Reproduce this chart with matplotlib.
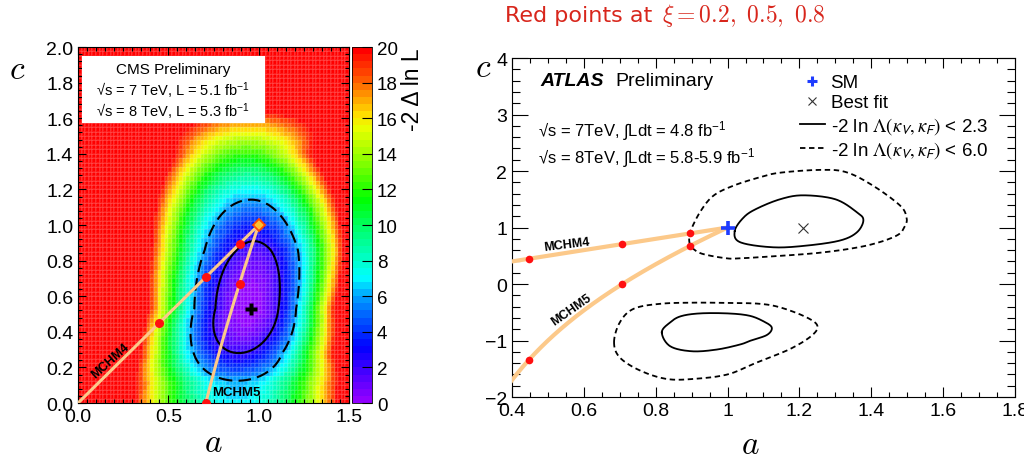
import numpy as np
import matplotlib
matplotlib.use("Agg")
import matplotlib.pyplot as plt
from matplotlib.colors import LinearSegmentedColormap, Normalize
from matplotlib.lines import Line2D
from matplotlib.patches import Rectangle
from matplotlib.ticker import MultipleLocator, FormatStrFormatter, FuncFormatter

plt.rcParams["font.family"] = ["Liberation Sans", "DejaVu Sans"]
plt.rcParams["mathtext.fontset"] = "custom"
plt.rcParams["mathtext.rm"] = "Liberation Sans"
plt.rcParams["mathtext.it"] = "Liberation Sans:italic"
plt.rcParams["mathtext.bf"] = "Liberation Sans:bold"
plt.rcParams["mathtext.sf"] = "Liberation Sans"

# ---------------- composite-Higgs benchmark points ----------------
xi_points = [0.2, 0.5, 0.8]

# ---------------- CMS likelihood valley (a, c) ----------------
# profile of the -2 Delta ln L valley along c
c_knots = [-0.10, 0.12, 0.28, 0.53, 0.86, 1.13, 1.40, 1.60, 2.10]
valley_v = [-2.75, -2.48, -1.52, 0.00, 1.32, 2.40, 3.48, 4.25, 7.00]   # signed sqrt of valley minimum
valley_a = [0.87, 0.88, 0.89, 0.95, 0.98, 0.96, 0.93, 0.95, 0.95]      # valley centre in a
width_lo = [0.16, 0.15, 0.13, 0.125, 0.135, 0.14, 0.14, 0.20, 0.20]    # width towards smaller a
width_hi = [0.16, 0.15, 0.125, 0.105, 0.115, 0.125, 0.13, 0.20, 0.20]  # width towards larger a
cms_best = (0.955, 0.53)
cms_levels = [2.3, 6.0]
cms_cbar_ticks = list(range(0, 21, 2))

# ---------------- ATLAS contours (kappa_V, kappa_F) ----------------
atlas_best = (1.21, 1.0)
atlas_sm = (1.0, 1.0)
up68_a = [1.02, 1.045, 1.08, 1.146, 1.21, 1.30, 1.36, 1.378, 1.36, 1.313, 1.22, 1.127, 1.035]
up68_c = [0.94, 1.18, 1.33, 1.50, 1.57, 1.50, 1.27, 1.13, 0.915, 0.77, 0.68, 0.65, 0.74]
up95_a = [0.895, 0.893, 0.895, 0.923, 0.96, 1.016, 1.09, 1.146, 1.257, 1.33, 1.405, 1.48,
          1.498, 1.494, 1.47, 1.387, 1.266, 1.127, 1.035, 0.997, 0.932, 0.905]
up95_c = [0.71, 0.82, 0.915, 1.27, 1.56, 1.74, 1.89, 1.97, 2.02, 1.98, 1.74, 1.39,
          1.18, 1.03, 0.855, 0.68, 0.56, 0.49, 0.455, 0.455, 0.53, 0.62]
lo68_a = [0.817, 0.84, 0.87, 0.923, 1.0, 1.06, 1.10, 1.123, 1.11, 1.065, 1.035, 0.97, 0.90, 0.84]
lo68_c = [-0.855, -0.68, -0.57, -0.52, -0.52, -0.56, -0.66, -0.77, -0.90, -1.0, -1.07, -1.16, -1.19, -1.10]
lo95_a = [0.684, 0.70, 0.738, 0.812, 0.905, 1.0, 1.09, 1.15, 1.22, 1.25, 1.234, 1.174,
          1.081, 1.0, 0.905, 0.83, 0.756, 0.70]
lo95_c = [-1.03, -0.68, -0.44, -0.35, -0.33, -0.335, -0.35, -0.42, -0.59, -0.74, -0.915, -1.15,
          -1.39, -1.60, -1.68, -1.68, -1.53, -1.30]

LINE_COL = "#fcc98a"
PT_COL = "#ff1010"


def mchm4(xi):
    xi = np.asarray(xi, float)
    return np.sqrt(1 - xi), np.sqrt(1 - xi)


def mchm5(xi):
    xi = np.asarray(xi, float)
    return np.sqrt(1 - xi), (1 - 2 * xi) / np.sqrt(1 - xi)


def cms_chi2(a, c):
    v = np.interp(c, c_knots, valley_v)
    a0 = np.interp(c, c_knots, valley_a)
    wl = np.interp(c, c_knots, width_lo)
    wh = np.interp(c, c_knots, width_hi)
    w = np.where(a < a0, wl, wh)
    return v ** 2 + ((a - a0) / w) ** 2


def closed_spline(xs, ys, n=24):
    P = np.column_stack([xs, ys])
    m = len(P)
    t = np.linspace(0, 1, n, endpoint=False)[:, None]
    segs = []
    for i in range(m):
        p0, p1, p2, p3 = P[i - 1], P[i], P[(i + 1) % m], P[(i + 2) % m]
        segs.append(0.5 * (2 * p1 + (-p0 + p2) * t + (2 * p0 - 5 * p1 + 4 * p2 - p3) * t ** 2
                           + (-p0 + 3 * p1 - 3 * p2 + p3) * t ** 3))
    segs.append(P[:1])
    out = np.vstack(segs)
    return out[:, 0], out[:, 1]


fig = plt.figure(figsize=(10.24, 4.64), dpi=100)

# ======================= CMS panel =======================
ax1 = fig.add_axes([0.0762, 0.1293, 0.2646, 0.7672])
cax = fig.add_axes([0.3438, 0.1293, 0.0195, 0.7672])

nodes = [(0.0, "#9000ff"), (0.075, "#4a00ff"), (0.15, "#0000ff"), (0.225, "#0050ff"),
         (0.30, "#00a8ff"), (0.35, "#00ffff"), (0.425, "#00ffb0"), (0.50, "#00ff60"),
         (0.575, "#00ff00"), (0.675, "#80ff00"), (0.775, "#e8ff00"), (0.815, "#ffe000"),
         (0.865, "#ffa000"), (0.925, "#ff5000"), (1.0, "#ff0000")]
cmap = LinearSegmentedColormap.from_list("root_rainbow", nodes, N=50)
cmap.set_over("#ff0000")
norm = Normalize(vmin=0, vmax=20)

a_edges = np.arange(0.0, 1.5001, 0.02)
c_edges = np.arange(0.0, 2.0001, 0.025)
ac = 0.5 * (a_edges[:-1] + a_edges[1:])
cc = 0.5 * (c_edges[:-1] + c_edges[1:])
AA, CC = np.meshgrid(ac, cc)
mesh = ax1.pcolormesh(a_edges, c_edges, cms_chi2(AA, CC), cmap=cmap, norm=norm,
                      edgecolors=(1, 1, 1, 0.10), linewidth=0.3)

af = np.linspace(0, 1.5, 500)
cf = np.linspace(0, 2.0, 600)
AF, CF = np.meshgrid(af, cf)
ZF = cms_chi2(AF, CF)
ax1.contour(AF, CF, ZF, levels=[cms_levels[0]], colors="k", linewidths=1.5)
ax1.contour(AF, CF, ZF, levels=[cms_levels[1]], colors="k", linewidths=1.5,
            linestyles=[(0, (6, 3))])

xi_line = np.linspace(0, 1, 400)
ax1.plot(*mchm4(xi_line), color=LINE_COL, lw=2.2, zorder=4)
xi5 = np.linspace(0, 0.5, 200)
ax1.plot(*mchm5(xi5), color=LINE_COL, lw=2.2, zorder=4)
ax1.plot(*mchm4(xi_points), "o", color=PT_COL, ms=6.5, mec="none", zorder=5)
ax1.plot(*mchm5(xi_points), "o", color=PT_COL, ms=6.5, mec="none", zorder=5)
ax1.plot([1.0], [1.0], "D", ms=6.5, mfc="#ffc030", mec="#ff4a00", mew=1.3, zorder=6)
ax1.plot([cms_best[0]], [cms_best[1]], "P", ms=9, color="k", mec="none", zorder=6)

ax1.text(0.18, 0.24, "MCHM4", rotation=42, fontsize=9, fontweight="bold",
         ha="center", va="center", zorder=6)
ax1.text(0.875, 0.06, "MCHM5", fontsize=9.5, fontweight="bold",
         ha="center", va="center", zorder=6)

ax1.set_xlim(0, 1.5)
ax1.set_ylim(0, 2.0)
ax1.xaxis.set_major_locator(MultipleLocator(0.5))
ax1.xaxis.set_minor_locator(MultipleLocator(0.05))
ax1.yaxis.set_major_locator(MultipleLocator(0.2))
ax1.yaxis.set_minor_locator(MultipleLocator(0.04))
ax1.xaxis.set_major_formatter(FormatStrFormatter("%.1f"))
ax1.yaxis.set_major_formatter(FormatStrFormatter("%.1f"))
ax1.tick_params(which="both", direction="in", top=True, right=True, labelsize=14, width=0.8)
ax1.tick_params(which="major", length=6)
ax1.tick_params(which="minor", length=3)

ax1.add_patch(Rectangle((0.015, 0.787), 0.675, 0.188, transform=ax1.transAxes,
                        facecolor="white", edgecolor="none", zorder=7))
ax1.text(0.352, 0.938, "CMS Preliminary", transform=ax1.transAxes, ha="center",
         va="center", fontsize=11, zorder=8)
ax1.text(0.352, 0.879, "\u221as = 7 TeV, L = 5.1 fb$^{-1}$", transform=ax1.transAxes,
         ha="center", va="center", fontsize=10.5, zorder=8)
ax1.text(0.352, 0.820, "\u221as = 8 TeV, L = 5.3 fb$^{-1}$", transform=ax1.transAxes,
         ha="center", va="center", fontsize=10.5, zorder=8)

ax1.text(-0.225, 0.938, "$c$", transform=ax1.transAxes, fontsize=24, ha="center",
         va="center", math_fontfamily="cm")
ax1.text(0.498, -0.11, "$a$", transform=ax1.transAxes, fontsize=24, ha="center",
         va="center", math_fontfamily="cm")

cb = fig.colorbar(mesh, cax=cax, ticks=cms_cbar_ticks)
cb.outline.set_linewidth(0.6)
cax.tick_params(direction="in", length=7, width=0.8, labelsize=13.5, right=True)
fig.text(0.403, 0.896, "-2 \u0394 ln L", rotation=90, ha="center", va="top", fontsize=16.5)

# ======================= ATLAS panel =======================
ax2 = fig.add_axes([0.5, 0.1422, 0.4912, 0.7306])

for xs, ys, ls in [(up68_a, up68_c, "-"), (lo68_a, lo68_c, "-"),
                   (up95_a, up95_c, (0, (3, 2))), (lo95_a, lo95_c, (0, (3, 2)))]:
    sx, sy = closed_spline(xs, ys)
    ax2.plot(sx, sy, color="k", lw=1.3, linestyle=ls)

ax2.plot(*mchm4(xi_line), color=LINE_COL, lw=3.0, zorder=4)
ax2.plot(*mchm5(np.linspace(0, 0.9, 400)), color=LINE_COL, lw=3.0, zorder=4)
ax2.plot(*mchm4(xi_points), "o", color=PT_COL, ms=5.5, mec="none", zorder=5)
ax2.plot(*mchm5(xi_points), "o", color=PT_COL, ms=5.5, mec="none", zorder=5)
ax2.plot([atlas_sm[0]], [atlas_sm[1]], "+", color="#1e3cff", ms=10, mew=2.6, zorder=6)
ax2.plot([atlas_best[0]], [atlas_best[1]], "x", color="#333333", ms=7, mew=0.8, zorder=6)

ax2.text(0.552, 0.71, "MCHM4", rotation=7, fontsize=9, fontweight="bold",
         ha="center", va="center")
ax2.text(0.564, -0.44, "MCHM5", rotation=35, fontsize=9, fontweight="bold",
         ha="center", va="center")

ax2.set_xlim(0.4, 1.8)
ax2.set_ylim(-2, 4)
ax2.xaxis.set_major_locator(MultipleLocator(0.2))
ax2.xaxis.set_minor_locator(MultipleLocator(0.05))
ax2.yaxis.set_major_locator(MultipleLocator(1))
ax2.yaxis.set_minor_locator(MultipleLocator(0.2))
ax2.xaxis.set_major_formatter(FuncFormatter(lambda v, p: f"{v:g}"))
ax2.tick_params(which="both", direction="in", top=True, right=True, labelsize=14, width=0.8)
ax2.tick_params(axis="x", which="major", length=7)
ax2.tick_params(axis="x", which="minor", length=3.6)
ax2.tick_params(axis="y", which="major", length=11.5)
ax2.tick_params(axis="y", which="minor", length=5.8)

ax2.text(0.056, 0.935, "ATLAS", transform=ax2.transAxes, fontsize=14, fontweight="bold",
         fontstyle="italic", va="center", ha="left")
ax2.text(0.205, 0.935, "Preliminary", transform=ax2.transAxes, fontsize=14,
         va="center", ha="left")
ax2.text(0.052, 0.788, "\u221as = 7TeV, \u222bLdt = 4.8 fb$^{-1}$", transform=ax2.transAxes,
         fontsize=12, va="center", ha="left")
ax2.text(0.052, 0.708, "\u221as = 8TeV, \u222bLdt = 5.8-5.9 fb$^{-1}$", transform=ax2.transAxes,
         fontsize=12, va="center", ha="left")

lam = r"-2 ln $\Lambda(\kappa_{\mathsf{V}},\kappa_{\mathsf{F}})$"
handles = [
    Line2D([], [], ls="none", marker="+", color="#1e3cff", ms=7, mew=2.2),
    Line2D([], [], ls="none", marker="x", color="#333333", ms=6, mew=0.8),
    Line2D([], [], color="k", lw=1.3),
    Line2D([], [], color="k", lw=1.3, ls=(0, (3, 2))),
]
labels = ["SM", "Best fit", lam + " < 2.3", lam + " < 6.0"]
leg = ax2.legend(handles, labels, loc="upper left", bbox_to_anchor=(0.557, 0.975),
                 frameon=False, fontsize=13.5, handlelength=1.35, handletextpad=0.3,
                 labelspacing=0.17, borderaxespad=0)
for t in leg.get_texts():
    t.set_math_fontfamily("stix")

ax2.text(-0.058, 0.973, "$c$", transform=ax2.transAxes, fontsize=24, ha="center",
         va="center", math_fontfamily="cm")
ax2.text(0.473, -0.139, "$a$", transform=ax2.transAxes, fontsize=24, ha="center",
         va="center", math_fontfamily="cm")

fig.text(0.637, 0.966, "Red points at", color="#d8261c", fontsize=16, ha="right",
         va="center", family=["DejaVu Sans"])
fig.text(0.646, 0.966, r"$\xi=0.2,\ 0.5,\ 0.8$", color="#d8261c", fontsize=17,
         ha="left", va="center", math_fontfamily="cm")

fig.savefig("out.png", dpi=100)
